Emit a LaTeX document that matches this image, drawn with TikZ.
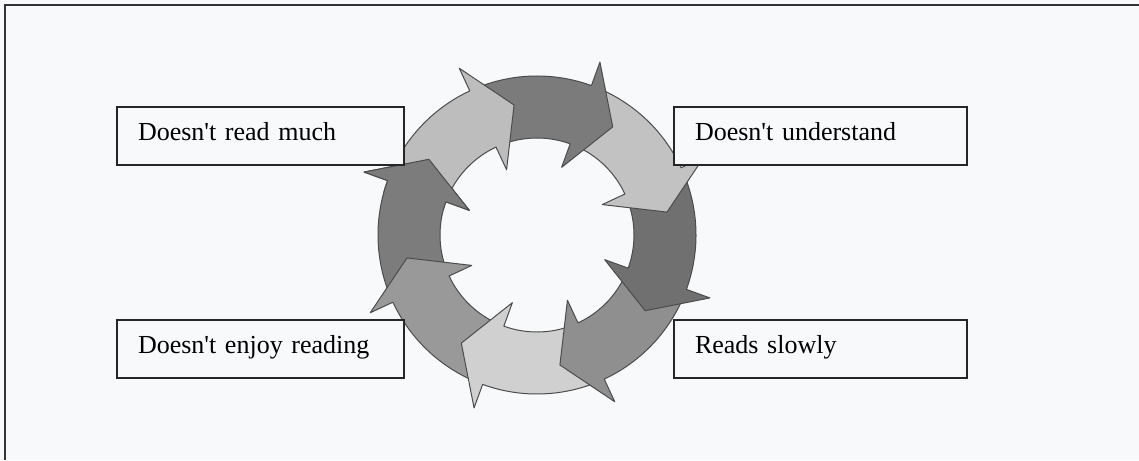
\documentclass[tikz,border=0pt]{standalone}
\usepackage{fontspec}
\setmainfont{Liberation Serif}[Ligatures=TeXOff]
\definecolor{bgcol}{HTML}{F7F9FB}
\definecolor{cLightA}{HTML}{BDBDBD}
\definecolor{cDarkA}{HTML}{7B7B7B}
\definecolor{cLightB}{HTML}{C2C2C2}
\definecolor{cDarkB}{HTML}{707070}
\definecolor{cMedA}{HTML}{8F8F8F}
\definecolor{cLightC}{HTML}{D0D0D0}
\definecolor{cMedB}{HTML}{999999}
\definecolor{cDarkC}{HTML}{7C7C7C}
\newcommand\cycarrow[2]{%
  \pgfmathsetmacro\cta{#1+45}%
  \pgfmathsetmacro\ctp{#1-15}%
  \filldraw[cycstyle, fill=#2]
    ([shift={(\cta:159pt)}]ctr) arc[start angle=\cta, end angle=#1, radius=159pt]
    -- ([shift={(#1:184pt)}]ctr) -- ([shift={(\ctp:132pt)}]ctr)
    -- ([shift={(#1:72pt)}]ctr) -- ([shift={(#1:97pt)}]ctr)
    arc[start angle=#1, end angle=\cta, radius=97pt] -- cycle;}
\begin{document}
\begin{tikzpicture}[x=1pt,y=1pt,
  cycstyle/.style={draw=black!70, line width=1pt, line join=round},
  labelbox/.style={draw=black!85, line width=1.4pt, fill=bgcol, rectangle,
    inner xsep=21pt, inner ysep=0pt, minimum height=58pt, align=left,
    text height=16pt, text depth=7pt,
    font=\fontsize{26}{30}\selectfont}]
\useasboundingbox (0,0) rectangle (1139,460);
\fill[bgcol] (0,0) rectangle (1139,460);
\coordinate (bl) at (5,0);
\coordinate (tl) at (5,455);
\coordinate (tr) at (1139,455);
\draw[black!80, line width=1.5pt] (bl) -- (tl) -- (tr);
\coordinate (ctr) at (537,225);
% arrows, drawn so that each head lies over the next arrow's tail
\cycarrow{-200}{cDarkC}
\cycarrow{-155}{cMedB}
\cycarrow{-110}{cLightC}
\cycarrow{-65}{cMedA}
\cycarrow{-20}{cDarkB}
\cycarrow{25}{cLightB}
\cycarrow{70}{cDarkA}
\cycarrow{115}{cLightA}
\begin{scope}
  \clip (ctr) -- ([shift={(-195:260pt)}]ctr) arc[start angle=-195, end angle=-228, radius=260pt] -- cycle;
  \cycarrow{-200}{cDarkC}
\end{scope}
% boxes
\node[labelbox, text width=245pt] (much) at (260.5,324) {Doesn't read much};
\node[labelbox, text width=251pt] (understand) at (820.5,324) {Doesn't understand};
\node[labelbox, text width=245pt] (enjoy) at (260.5,111) {Doesn't enjoy reading};
\node[labelbox, text width=251pt] (slowly) at (820.5,111) {Reads slowly};
\end{tikzpicture}
\end{document}
